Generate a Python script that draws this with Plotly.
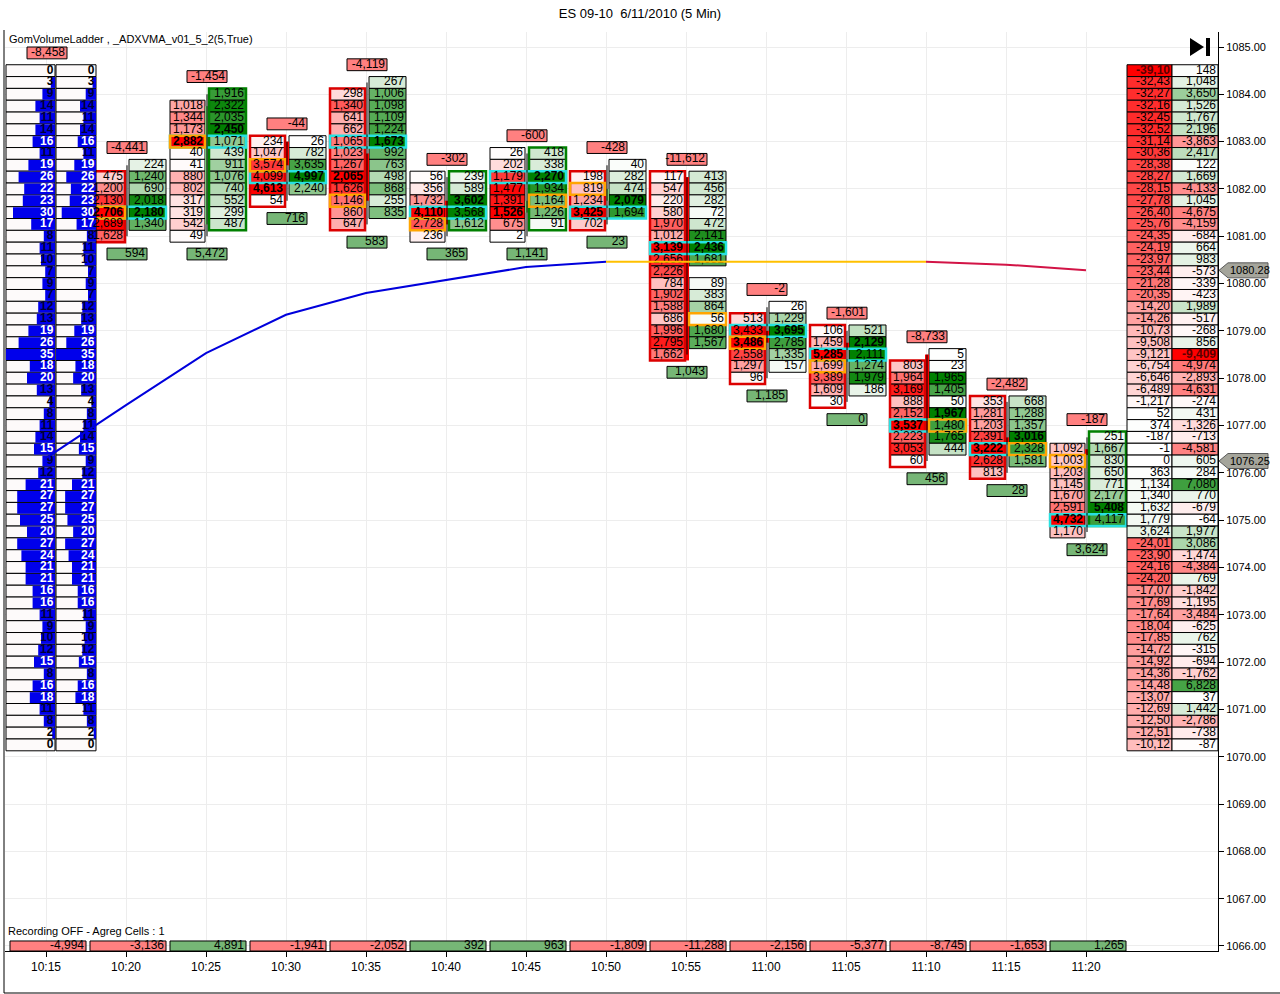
import plotly.graph_objects as go

FONT = "Liberation Sans, Arial, sans-serif"
TICK = 0.25

times = ["10:15", "10:20", "10:25", "10:30", "10:35", "10:40", "10:45",
         "10:50", "10:55", "11:00", "11:05", "11:10", "11:15", "11:20"]

# GomVolumeLadder on the left: volume per price, 1084.50 down to 1070.25
ladder_top = 1084.50
left_volume = [0, 3, 9, 14, 11, 14, 16, 11, 19, 26, 22, 23, 30, 17, 8, 11, 10, 7, 9, 7,
               12, 13, 19, 26, 35, 18, 20, 13, 4, 8, 11, 14, 15, 9, 12, 21, 27, 27, 25, 20,
               27, 24, 21, 21, 16, 16, 11, 9, 10, 12, 15, 8, 16, 18, 11, 8, 2, 0]

# ladder on the right: cumulative delta (as printed) and net delta per price
right_delta = ["-39,10", "-32,43", "-32,27", "-32,16", "-32,45", "-32,52", "-31,14", "-30,36",
               "-28,38", "-28,27", "-28,15", "-27,78", "-26,40", "-25,76", "-24,35", "-24,19",
               "-23,97", "-23,44", "-21,28", "-20,35", "-14,20", "-14,26", "-10,73", "-9,508",
               "-9,121", "-6,754", "-6,646", "-6,489", "-1,217", "52", "374", "-187", "-1", "0",
               "363", "1,134", "1,340", "1,632", "1,779", "3,624", "-24,01", "-23,90", "-24,16",
               "-24,20", "-17,07", "-17,69", "-17,64", "-18,04", "-17,85", "-14,72", "-14,92",
               "-14,36", "-14,48", "-13,07", "-12,69", "-12,50", "-12,51", "-10,12"]
right_net = [148, 1048, 3650, 1526, 1767, 2196, -3863, 2417, 122, 1669, -4133, 1045, -4675,
             -4159, -684, 664, 983, -573, -339, -423, 1989, -517, -268, 856, -9409, -4974,
             -2893, -4631, -274, 431, -1326, -713, -4581, 605, 284, 7080, 770, -679, -64, 1977,
             3086, -1474, -4384, 769, -1842, -1195, -3484, -625, 762, -315, -694, -1762, 6828,
             37, 1442, -2786, -738, -87]

# footprint bars 10:20 .. 11:20 (bid column / ask column, top price first)
bid_top = [1082.25, 1083.75, 1083.00, 1084.00, 1082.25, 1082.75, 1082.25,
           1082.25, 1079.25, 1079.00, 1078.25, 1077.50, 1076.50]
bids = [
    [475, 1200, 2130, 2706, 2689, 1628],
    [1018, 1344, 1173, 2882, 40, 41, 880, 802, 317, 319, 542, 49],
    [234, 1047, 3574, 4099, 4613, 54],
    [298, 1340, 641, 662, 1065, 1023, 1267, 2065, 1626, 1146, 860, 647],
    [56, 356, 1732, 4110, 2728, 236],
    [26, 202, 1179, 1477, 1391, 1526, 675, 2],
    [198, 819, 1234, 3425, 702],
    [117, 547, 220, 580, 1970, 1012, 3139, 2656, 2226, 784, 1902, 1588, 686, 1996, 2795, 1662],
    [513, 3433, 3486, 2558, 1297, 96],
    [106, 1459, 5285, 1699, 3389, 1609, 30],
    [803, 1964, 3169, 888, 2152, 3537, 2223, 3053, 60],
    [353, 1281, 1203, 2391, 3222, 2628, 813],
    [1092, 1003, 1203, 1145, 1670, 2591, 4732, 1170],
]
ask_top = [1082.50, 1084.00, 1083.00, 1084.25, 1082.25, 1082.75, 1082.50,
           1082.25, 1079.50, 1079.00, 1078.50, 1077.50, 1076.75]
asks = [
    [224, 1240, 690, 2018, 2180, 1340],
    [1916, 2322, 2035, 2450, 1071, 439, 911, 1076, 740, 552, 299, 487],
    [26, 782, 3635, 4997, 2240],
    [267, 1006, 1098, 1109, 1224, 1673, 992, 763, 498, 868, 255, 835],
    [239, 589, 3602, 3568, 1612],
    [418, 338, 2270, 1934, 1164, 1226, 91],
    [40, 282, 474, 2079, 1694],
    [413, 456, 282, 72, 472, 2141, 2436, 1681, None, 89, 383, 864, 56, 1680, 1567],
    [26, 1229, 3695, 2785, 1335, 157],
    [521, 2129, 2111, 1274, 1979, 186],
    [5, 23, 1965, 1405, 50, 1967, 1480, 1765, 444],
    [668, 1288, 1357, 3016, 2328, 1581],
    [251, 1667, 830, 650, 771, 2177, 5408, 4117],
]
poc_price = [1081.50, 1083.00, 1082.25, 1083.00, 1081.50, 1082.25, 1081.50,
             1080.75, 1079.00, 1078.50, 1077.00, 1076.50, 1075.00]
mark_side = ["bid", "bid", "bid", "bid", "bid", "ask", "bid", "ask", "bid", "bid", "ask", "ask", "bid"]
mark_price = [1081.50, 1083.00, 1082.50, 1081.75, 1081.25, 1081.75, 1082.00,
              1079.25, 1078.75, 1078.25, 1077.00, 1076.50, 1076.25]
frame_side = ["bid", "ask", "bid", "bid", "ask", "ask", "bid", "bid", "bid", "bid", "bid", "bid", "ask"]
body_open = [1081.375, 1081.25, 1083.00, 1082.75, 1081.75, 1081.50, 1081.75,
             1082.25, 1079.00, 1078.75, 1078.50, 1076.75, 1076.50]
body_close = [1081.625, 1083.75, 1082.50, 1081.75, 1081.25, 1081.75, 1082.00,
              1078.375, 1078.75, 1078.625, 1076.875, 1076.625, 1076.375]

first_high = 1084.50  # 10:15 bar sits under the ladder, only its top box shows
delta_above = [-8458, -4441, -1454, -44, -4119, -302, -600, -428, -11612, -2, -1601, -8733, -2482, -187]
volume_below = [594, 5472, 716, 583, 365, 1141, 23, 1043, 1185, 0, 456, 28, 3624]
delta_strip = [-4994, -3136, 4891, -1941, -2052, 392, 963, -1809, -11288, -2156, -5377, -8745, -1653, 1265]

adxvma = [1076.31, 1077.43, 1078.53, 1079.34, 1079.80, 1080.08, 1080.35,
          1080.46, 1080.46, 1080.46, 1080.46, 1080.46, 1080.40, 1080.28]
last_price = 1076.25

RED = (255, 0, 0)
GREEN = (0, 128, 0)
BOX_RED = "rgb(255,128,128)"
BOX_GREEN = "rgb(118,182,118)"


def shade(v, vmax, full):
    r = min(abs(v) / vmax, 1.0) if vmax else 0.0
    return "rgb(%d,%d,%d)" % tuple(round(255 + (f - 255) * r) for f in full)


def ladder_num(s):
    n = int(s.replace(",", ""))
    if "," in s and len(s.split(",")[1]) == 2:
        n *= 10
    return n


fig = go.Figure()

cx0, clen, cy, cfill = [], [], [], []
tx, ty, ts, tc = [], [], [], []


def cell(x0, x1, p, fill, label, color="black"):
    cx0.append(x0); clen.append(x1 - x0); cy.append(p); cfill.append(fill)
    tx.append(x1 - 0.025); ty.append(p); ts.append(label); tc.append(color)


BID = (-0.45, -0.0125)
ASK = (0.0375, 0.5)

ox0, olen, oy, oh, ocol = [], [], [], [], []


def outline(x0, x1, ptop, pbot, color):
    ox0.append(x0); olen.append(x1 - x0)
    oy.append((ptop + pbot) / 2); oh.append(ptop - pbot + TICK); ocol.append(color)


wick_x, wick_y = [], []
highs, lows = [first_high], [None]
cyan, orange = [], []
for k in range(len(bids)):
    xc = k + 1
    bot_b = bid_top[k] - TICK * (len(bids[k]) - 1)
    bot_a = ask_top[k] - TICK * (len(asks[k]) - 1)
    for top, vals, full, (lo, hi) in ((bid_top[k], bids[k], RED, BID), (ask_top[k], asks[k], GREEN, ASK)):
        vmax = max(v for v in vals if v is not None)
        for j, v in enumerate(vals):
            if v is None:
                continue
            lab = f"{v:,}"
            if v == vmax:
                lab = f"<b>{lab}</b>"
            cell(xc + lo, xc + hi, top - TICK * j, shade(v, vmax, full), lab)
    hi_p, lo_p = max(bid_top[k], ask_top[k]), min(bot_b, bot_a)
    highs.append(hi_p); lows.append(lo_p)
    wick_x += [xc + 0.0125, xc + 0.0125, None]
    wick_y += [hi_p, lo_p, None]
    if frame_side[k] == "bid":
        outline(xc + BID[0], xc + BID[1], bid_top[k], bot_b, "rgb(220,0,0)")
    else:
        outline(xc + ASK[0], xc + ASK[1], ask_top[k], bot_a, "rgb(0,128,0)")
    cyan.append((xc + BID[0], xc + ASK[1], poc_price[k]))
    lo, hi = BID if mark_side[k] == "bid" else ASK
    orange.append((xc + lo, xc + hi, mark_price[k]))

for x0, x1, p in cyan:
    outline(x0, x1, p, p, "rgb(40,225,225)")
for x0, x1, p in orange:
    outline(x0, x1, p, p, "rgb(255,165,0)")

# delta box above each bar, volume box below
for i, v in enumerate(delta_above):
    cell(i - 0.2375, i + 0.2625, highs[i] + 1.5 * TICK, BOX_RED, f"{v:,}")
for k, v in enumerate(volume_below):
    cell(k + 1 - 0.2375, k + 1 + 0.2625, lows[k + 1] - 1.5 * TICK, BOX_GREEN, f"{v:,}")

n_fp = len(cx0)

fig.add_trace(go.Bar(orientation="h", y=cy, x=clen, base=cx0, width=TICK,
                     marker=dict(color=cfill, line=dict(color="black", width=1)),
                     hoverinfo="skip"))

# candle bodies and wicks
fig.add_trace(go.Scatter(x=wick_x, y=wick_y, mode="lines", line=dict(color="black", width=1),
                         hoverinfo="skip"))
fig.add_trace(go.Bar(orientation="h",
                     y=[(o + c) / 2 for o, c in zip(body_open, body_close)],
                     width=[abs(c - o) for o, c in zip(body_open, body_close)],
                     base=[k + 1 - 0.0125 for k in range(len(body_open))],
                     x=[0.05] * len(body_open),
                     marker=dict(color=["rgb(255,0,0)" if c < o else "rgb(120,200,120)"
                                        for o, c in zip(body_open, body_close)], line=dict(width=0)),
                     hoverinfo="skip"))

fig.add_trace(go.Bar(orientation="h", y=oy, x=olen, base=ox0, width=oh,
                     marker=dict(color="rgba(0,0,0,0)", line=dict(color=ocol, width=2.5)),
                     hoverinfo="skip"))

# bottom strip: delta per bar
sx0, slen, sfill = [], [], []
for i, v in enumerate(delta_strip):
    sx0.append(i - 0.45); slen.append(0.95); sfill.append(BOX_RED if v < 0 else BOX_GREEN)
fig.add_trace(go.Bar(orientation="h", y=[1066.0] * len(delta_strip), x=slen, base=sx0, width=0.212,
                     marker=dict(color=sfill, line=dict(color="black", width=1)), hoverinfo="skip"))

fig.add_trace(go.Scatter(x=tx[:n_fp], y=ty[:n_fp], text=ts[:n_fp], mode="text", textposition="middle left",
                         textfont=dict(family=FONT, size=12, color=tc[:n_fp]), hoverinfo="skip"))
fig.add_trace(go.Scatter(x=[i + 0.475 for i in range(len(delta_strip))], y=[1066.0] * len(delta_strip),
                         text=[f"{v:,}" for v in delta_strip], mode="text", textposition="middle left",
                         textfont=dict(family=FONT, size=12, color="black"), hoverinfo="skip"))

# left ladder
L1, L2 = (-0.5, 0.1125), (0.125, 0.625)
rows = [ladder_top - TICK * j for j in range(len(left_volume))]
vmax_l = max(left_volume)
lx0, llen, ly = [], [], []
bx0, blen, by = [], [], []
ltx, lty, lts, ltc = [], [], [], []
for p, v in zip(rows, left_volume):
    for lo, hi in (L1, L2):
        lx0.append(lo); llen.append(hi - lo); ly.append(p)
        w = (hi - lo) * v / vmax_l
        bx0.append(hi - w); blen.append(w); by.append(p)
        ltx.append(hi - 0.02); lty.append(p); lts.append(f"<b>{v}</b>")
        ltc.append("black" if v <= 4 else ("white" if v >= 15 else "rgb(0,0,55)"))
fig.add_trace(go.Bar(orientation="h", y=ly, x=llen, base=lx0, width=TICK,
                     marker=dict(color="rgb(253,250,250)", line=dict(color="black", width=1)),
                     hoverinfo="skip"))
fig.add_trace(go.Bar(orientation="h", y=by, x=blen, base=bx0, width=TICK * 0.92,
                     marker=dict(color="rgb(0,0,235)", line=dict(width=0)), hoverinfo="skip"))
fig.add_trace(go.Scatter(x=ltx, y=lty, text=lts, mode="text", textposition="middle left",
                         textfont=dict(family=FONT, size=12, color=ltc), hoverinfo="skip"))

# right ladder
R1, R2 = (13.5125, 14.075), (14.075, 14.65)
rnum = [ladder_num(s) for s in right_delta]
rmax1 = max(abs(n) for n in rnum)
rmax2 = max(abs(n) for n in right_net)
rx0, rlen, ry, rfill = [], [], [], []
rtx, rty, rts, rtc = [], [], [], []
for p, s, n, v in zip(rows, right_delta, rnum, right_net):
    for (lo, hi), val, vm, lab in ((R1, n, rmax1, s), (R2, v, rmax2, f"{v:,}")):
        rx0.append(lo); rlen.append(hi - lo); ry.append(p)
        rfill.append(shade(val, vm, RED if val < 0 else GREEN))
        strong = abs(val) == vm
        rtx.append(hi - 0.025); rty.append(p)
        rts.append(f"<b>{lab}</b>" if strong else lab)
        rtc.append("rgb(90,0,0)" if strong else "black")
fig.add_trace(go.Bar(orientation="h", y=ry, x=rlen, base=rx0, width=TICK,
                     marker=dict(color=rfill, line=dict(color="black", width=1)), hoverinfo="skip"))
fig.add_trace(go.Scatter(x=rtx, y=rty, text=rts, mode="text", textposition="middle left",
                         textfont=dict(family=FONT, size=12, color=rtc), hoverinfo="skip"))

# ADXVMA, coloured by direction
def trend(d):
    return "rgb(0,0,220)" if d > 0.02 else ("rgb(210,20,70)" if d < -0.02 else "rgb(255,192,0)")

seg_start = 0
for i in range(1, len(adxvma)):
    col = trend(adxvma[i] - adxvma[i - 1])
    nxt = trend(adxvma[i + 1] - adxvma[i]) if i + 1 < len(adxvma) else None
    if nxt != col:
        fig.add_trace(go.Scatter(x=list(range(seg_start, i + 1)), y=adxvma[seg_start:i + 1],
                                 mode="lines", line=dict(color=col, width=2), hoverinfo="skip"))
        seg_start = i


def pxx(p):
    return (p - 5) / 1213.0


def pxy(p):
    return (951 - p) / 919.0


shapes = [
    dict(type="path", xref="paper", yref="paper", fillcolor="black", line=dict(width=0),
         path=f"M{pxx(1190)},{pxy(38)} L{pxx(1190)},{pxy(56)} L{pxx(1204)},{pxy(47)} Z"),
    dict(type="rect", xref="paper", yref="paper", fillcolor="black", line=dict(width=0),
         x0=pxx(1206), x1=pxx(1210), y0=pxy(56), y1=pxy(38)),
    dict(type="line", xref="paper", yref="paper", x0=pxx(4), x1=pxx(4), y0=pxy(30), y1=pxy(993),
         line=dict(color="black", width=1)),
    dict(type="line", xref="paper", yref="paper", x0=pxx(4), x1=pxx(1280), y0=pxy(993), y1=pxy(993),
         line=dict(color="black", width=1)),
]
annotations = [
    dict(text="GomVolumeLadder , _ADXVMA_v01_5_2(5,True)", xref="paper", yref="paper",
         x=pxx(7), y=pxy(39), xanchor="left", yanchor="middle", showarrow=False,
         font=dict(family=FONT, size=11, color="black")),
    dict(text="Recording OFF - Agreg Cells : 1", xref="paper", yref="paper",
         x=pxx(7), y=pxy(938), xanchor="left", yanchor="bottom", showarrow=False, borderpad=0,
         font=dict(family=FONT, size=11, color="black")),
]
half = 7.5 / 47.316
for p in (adxvma[-1], last_price):
    shapes.append(dict(type="path", xref="paper", yref="y", fillcolor="rgb(165,165,155)",
                       line=dict(color="rgb(90,90,90)", width=1),
                       path=f"M{pxx(1219)},{p} L{pxx(1228)},{p + half} L{pxx(1268)},{p + half} "
                            f"L{pxx(1268)},{p - half} L{pxx(1228)},{p - half} Z"))
    annotations.append(dict(text=f"{p:.2f}", xref="paper", yref="y", x=pxx(1228), y=p,
                            xanchor="left", yanchor="middle", showarrow=False,
                            font=dict(family=FONT, size=11, color="black")))

fig.update_layout(
    width=1280, height=994, template="none",
    margin=dict(l=5, r=62, t=32, b=43, pad=0),
    paper_bgcolor="white", plot_bgcolor="white",
    barmode="overlay", hovermode=False, showlegend=False,
    title=dict(text="ES 09-10\u00a0 6/11/2010 (5 Min)", x=0.5, xref="container", xanchor="center",
               y=1 - 13 / 994, yref="container", yanchor="middle",
               font=dict(family=FONT, size=13, color="black")),
    xaxis=dict(range=[-0.5125, 14.65], tickvals=list(range(len(times))), ticktext=times,
               ticks="outside", ticklen=5, tickcolor="black", showline=True, linecolor="black",
               linewidth=1, showgrid=True, gridcolor="rgb(237,237,237)", zeroline=False,
               tickfont=dict(family=FONT, size=12, color="black"), automargin=False, fixedrange=True),
    yaxis=dict(range=[1065.894, 1085.317], side="right", tick0=1066, dtick=1, tickformat=".2f",
               ticks="outside", ticklen=5, tickcolor="black", showline=True, linecolor="black",
               linewidth=1, showgrid=True, gridcolor="rgb(237,237,237)", zeroline=False,
               tickfont=dict(family=FONT, size=11, color="black"), automargin=False, fixedrange=True),
    shapes=shapes, annotations=annotations,
)

# the page's default 8px body margin would push the chart off the 1280x994 window
fig.write_html("out.html", config={"displayModeBar": False},
               post_script="document.body.style.margin='0px';")
